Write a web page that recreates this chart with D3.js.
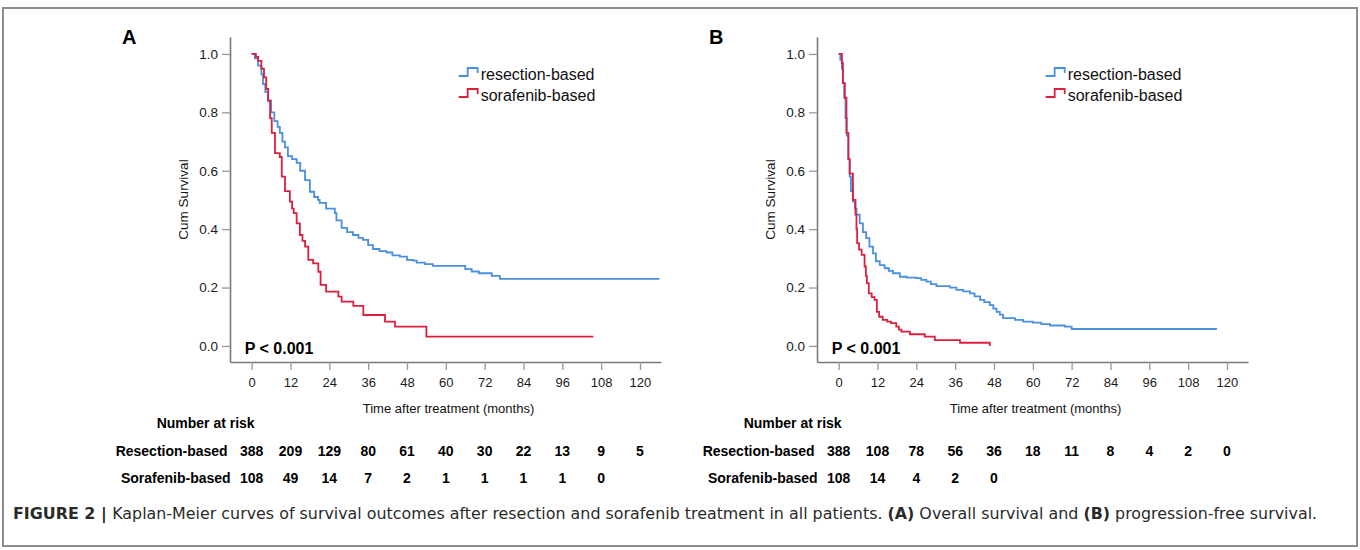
<!DOCTYPE html>
<html>
<head>
<meta charset="utf-8">
<script src="https://cdn.jsdelivr.net/npm/d3@7"></script>
<style>
  html, body { margin: 0; padding: 0; background: #fff; }
  svg { display: block; font-family: "Liberation Sans", Arial, Helvetica, sans-serif; }
</style>
</head>
<body>
<svg id="chart" width="1360" height="550"></svg>
<script>
// ---------------- DATA ----------------
const monthTicks = [0, 12, 24, 36, 48, 60, 72, 84, 96, 108, 120];
const survivalTicks = [0.0, 0.2, 0.4, 0.6, 0.8, 1.0];
const seriesNames = ["resection-based", "sorafenib-based"];
const riskRowLabels = ["Resection-based", "Sorafenib-based"];

// Panel A: overall survival  [month, cumulative survival after step]
const osResection = [[0,1],[1,0.985],[2,0.96],[3,0.93],[3.5,0.897],[4.2,0.87],[5,0.84],[6,0.8],[7,0.77],[8,0.75],[8.7,0.73],[9.5,0.70],[10.3,0.68],[11.2,0.65],[12.5,0.64],[13.9,0.627],[15,0.6],[16.5,0.568],[18,0.528],[19.3,0.51],[20.5,0.5],[21,0.49],[23,0.47],[25.7,0.455],[26.2,0.43],[27.8,0.404],[29.5,0.39],[31.3,0.38],[33,0.37],[34.4,0.363],[36,0.345],[37.5,0.332],[39.5,0.325],[41.7,0.32],[43.5,0.31],[45.8,0.306],[48,0.295],[49.9,0.292],[51,0.285],[53.5,0.28],[56,0.274],[66,0.263],[68,0.255],[70.2,0.249],[74.2,0.24],[76.7,0.23]];
const osResectionEnd = 126;
const osSorafenib = [[0,1],[1.3,0.99],[2,0.976],[3,0.95],[3.8,0.92],[4.5,0.88],[5.1,0.84],[5.7,0.78],[6.2,0.73],[7.2,0.66],[8.7,0.647],[9.3,0.58],[10.3,0.53],[11.8,0.494],[12.5,0.47],[13,0.455],[13.9,0.42],[14.9,0.38],[15.7,0.36],[16.5,0.34],[17.5,0.295],[19,0.283],[20.6,0.254],[21.3,0.209],[23,0.186],[26.8,0.169],[27.8,0.152],[31.4,0.137],[34.5,0.106],[41.2,0.083],[44.3,0.066],[54,0.032]];
const osSorafenibEnd = 105.6;

// Panel B: progression-free survival
const pfsResection = [[0,1],[0.5,0.98],[1,0.95],[1.3,0.9],[1.7,0.85],[2.1,0.78],[2.5,0.72],[3,0.64],[3.4,0.58],[3.8,0.53],[4.4,0.494],[5,0.47],[5.5,0.45],[6.5,0.42],[7.5,0.39],[8.5,0.369],[9.5,0.34],[10.6,0.317],[11.5,0.29],[12.7,0.277],[14.2,0.266],[15.5,0.257],[16.8,0.249],[18.9,0.237],[21,0.234],[24,0.232],[25.5,0.226],[27.1,0.22],[28.5,0.212],[30.2,0.205],[34.4,0.2],[36.4,0.192],[38.5,0.187],[40.6,0.18],[42,0.17],[43.7,0.158],[45,0.15],[46.7,0.14],[47.8,0.128],[48.8,0.117],[49.8,0.107],[50.8,0.095],[54.5,0.089],[57,0.083],[60,0.08],[62.6,0.075],[65.3,0.07],[69.9,0.066],[72,0.058]];
const pfsResectionEnd = 116.9;
const pfsSorafenib = [[0,1],[1,0.97],[1.3,0.9],[1.9,0.85],[2.4,0.73],[3,0.64],[3.4,0.59],[4.4,0.5],[5.2,0.45],[5.5,0.40],[5.7,0.352],[6.3,0.33],[7.1,0.312],[8.0,0.272],[8.4,0.24],[8.7,0.215],[9.3,0.18],[10.2,0.167],[11.1,0.158],[11.8,0.117],[12.5,0.1],[13.6,0.089],[15,0.083],[16.2,0.078],[17.8,0.066],[18.6,0.056],[19.4,0.049],[22,0.04],[26.6,0.032],[29.7,0.02],[37.5,0.011],[46.7,0.0]];
const pfsSorafenibEnd = 46.7;

// Number at risk
const osRiskResection = [388, 209, 129, 80, 61, 40, 30, 22, 13, 9, 5];
const osRiskSorafenib = [108, 49, 14, 7, 2, 1, 1, 1, 1, 0];
const pfsRiskResection = [388, 108, 78, 56, 36, 18, 11, 8, 4, 2, 0];
const pfsRiskSorafenib = [108, 14, 4, 2, 0];

const panelLabels = ["A", "B"];
const pValueText = "P < 0.001";
const yTitle = "Cum Survival";
const xTitle = "Time after treatment (months)";
const riskTitle = "Number at risk";

// ---------------- STYLE ----------------
const colors = ["#4a8fe0", "#dc1f3d"];
const axisColor = "#7a7a7a";
const textColor = "#111";

const svg = d3.select("#chart");

// Frame
svg.append("rect").attr("x", 3).attr("y", 8).attr("width", 1354).attr("height", 538)
  .attr("fill", "none").attr("stroke", "#8c8c8c").attr("stroke-width", 2);

const panels = [
  { left: 230, right: 661, label: panelLabels[0], curves: [[osResection, osResectionEnd], [osSorafenib, osSorafenibEnd]], risk: [osRiskResection, osRiskSorafenib] },
  { left: 817, right: 1248, label: panelLabels[1], curves: [[pfsResection, pfsResectionEnd], [pfsSorafenib, pfsSorafenibEnd]], risk: [pfsRiskResection, pfsRiskSorafenib] }
];

const yTop = 37, yBottom = 362;
const y = d3.scaleLinear().domain([-0.055, 1.058]).range([yBottom, yTop]);

panels.forEach(p => {
  const x = d3.scaleLinear().domain([-6.7, 126.5]).range([p.left, p.right]);
  const g = svg.append("g");

  // Y axis
  const ya = g.append("g").attr("transform", `translate(${p.left},0)`)
    .call(d3.axisLeft(y).tickValues(survivalTicks).tickFormat(d3.format(".1f")).tickSize(8).tickSizeOuter(0).tickPadding(4));
  // X axis
  const xa = g.append("g").attr("transform", `translate(0,${yBottom})`)
    .call(d3.axisBottom(x).tickValues(monthTicks).tickSize(8).tickSizeOuter(0).tickPadding(8));
  [ya, xa].forEach(a => {
    a.select(".domain").attr("stroke", axisColor).attr("stroke-width", 1.6);
    a.selectAll(".tick line").attr("stroke", "#9a9a9a").attr("stroke-width", 1.3);
    a.selectAll(".tick text").attr("fill", "#1a1a1a").style("font-size", "13px").style("font-family", "'Liberation Sans', Arial, sans-serif");
  });
  ya.selectAll(".tick text").style("font-size", "13.5px");

  // Axis titles
  g.append("text").attr("transform", `translate(${p.left - 42},${(yTop + yBottom) / 2}) rotate(-90)`)
    .attr("text-anchor", "middle").attr("fill", textColor).style("font-size", "13.5px").text(yTitle);
  g.append("text").attr("x", (p.left + p.right) / 2 + 3).attr("y", 413)
    .attr("text-anchor", "middle").attr("fill", textColor).style("font-size", "13px").text(xTitle);

  // Panel label
  g.append("text").attr("x", p.left - 108).attr("y", 44).attr("fill", "#000")
    .style("font-size", "20px").style("font-weight", "bold").text(p.label);

  // Curves
  const line = d3.line().x(d => x(d[0])).y(d => y(d[1])).curve(d3.curveStepAfter);
  p.curves.forEach((c, i) => {
    const pts = c[0].concat([[c[1], c[0][c[0].length - 1][1]]]);
    g.append("path").attr("d", line(pts)).attr("fill", "none")
      .attr("stroke", colors[i]).attr("stroke-width", 1.8).attr("stroke-linejoin", "miter");
  });

  // Legend
  const lx = x(0) + 207, ly = [80, 101];
  seriesNames.forEach((name, i) => {
    const by = ly[i] - 4;
    g.append("path").attr("d", `M${lx},${by} H${lx + 9} V${by - 8} H${lx + 19} V${by - 3}`)
      .attr("fill", "none").attr("stroke", colors[i]).attr("stroke-width", 1.8);
    g.append("text").attr("x", lx + 22).attr("y", ly[i]).attr("fill", textColor)
      .style("font-size", "16px").text(name);
  });

  // P value
  g.append("text").attr("x", x(0) - 7).attr("y", 354).attr("fill", "#000")
    .style("font-size", "16px").style("font-weight", "bold").text(pValueText);

  // Number at risk table
  g.append("text").attr("x", x(0) + 3).attr("y", 428).attr("text-anchor", "end").attr("fill", "#000")
    .style("font-size", "14px").style("font-weight", "bold").text(riskTitle);
  const rowY = [456, 483];
  p.risk.forEach((vals, r) => {
    g.append("text").attr("x", x(0) - (r === 0 ? 24 : 21)).attr("y", rowY[r]).attr("text-anchor", "end").attr("fill", "#000")
      .style("font-size", "14px").style("font-weight", "bold").text(riskRowLabels[r]);
    g.selectAll(null).data(vals).enter().append("text")
      .attr("x", (d, j) => x(monthTicks[j])).attr("y", rowY[r]).attr("text-anchor", "middle").attr("fill", "#000")
      .style("font-size", "14px").style("font-weight", "bold").text(d => d);
  });
});

// Caption
const cap = svg.append("text").attr("y", 519).attr("fill", "#2a2a2a")
  .style("font-size", "16px").style("font-family", "'Liberation Sans Narrow', 'DejaVu Sans Condensed', 'Liberation Sans', Arial, sans-serif");
const capParts = [
  ["FIGURE 2 | ", true], ["Kaplan-Meier curves of survival outcomes after resection and sorafenib treatment in all patients. ", false],
  ["(A)", true], [" Overall survival and ", false], ["(B)", true], [" progression-free survival.", false]
];
capParts.forEach(pt => cap.append("tspan").style("font-weight", pt[1] ? "bold" : "normal").text(pt[0]));
const capX0 = 13, capX1 = 1318;
const w = cap.node().getComputedTextLength();
cap.attr("transform", `translate(${capX0},0) scale(${(capX1 - capX0) / w},1)`);
</script>
</body>
</html>
